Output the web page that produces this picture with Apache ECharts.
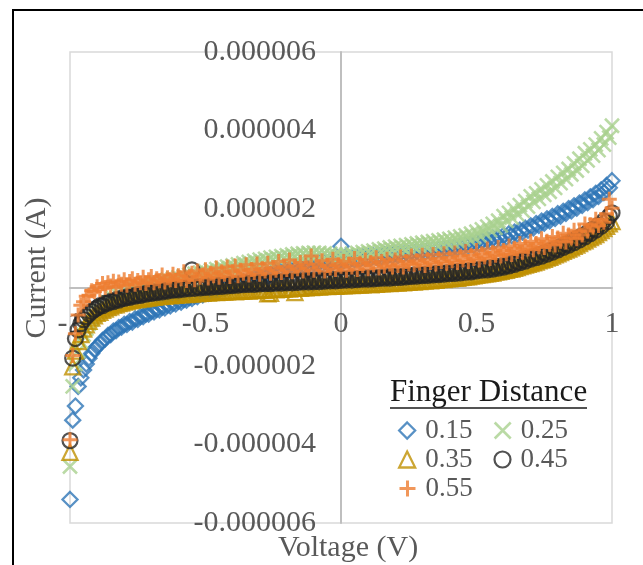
<!DOCTYPE html>
<html>
<head>
<meta charset="utf-8">
<script src="https://cdn.jsdelivr.net/npm/echarts@6/dist/echarts.min.js"></script>
<style>
  html, body { margin: 0; padding: 0; background: #fff; }
  #chart { width: 643px; height: 565px; }
</style>
</head>
<body>
<div id="chart"></div>
<script>
// Voltage sweep (V), 10 mV steps
const voltage = [
  -1,-0.99,-0.98,-0.97,-0.96,-0.95,-0.94,-0.93,-0.92,-0.91,
  -0.9,-0.89,-0.88,-0.87,-0.86,-0.85,-0.84,-0.83,-0.82,-0.81,
  -0.8,-0.79,-0.78,-0.77,-0.76,-0.75,-0.74,-0.73,-0.72,-0.71,
  -0.7,-0.69,-0.68,-0.67,-0.66,-0.65,-0.64,-0.63,-0.62,-0.61,
  -0.6,-0.59,-0.58,-0.57,-0.56,-0.55,-0.54,-0.53,-0.52,-0.51,
  -0.5,-0.49,-0.48,-0.47,-0.46,-0.45,-0.44,-0.43,-0.42,-0.41,
  -0.4,-0.39,-0.38,-0.37,-0.36,-0.35,-0.34,-0.33,-0.32,-0.31,
  -0.3,-0.29,-0.28,-0.27,-0.26,-0.25,-0.24,-0.23,-0.22,-0.21,
  -0.2,-0.19,-0.18,-0.17,-0.16,-0.15,-0.14,-0.13,-0.12,-0.11,
  -0.1,-0.09,-0.08,-0.07,-0.06,-0.05,-0.04,-0.03,-0.02,-0.01,
  0,0.01,0.02,0.03,0.04,0.05,0.06,0.07,0.08,0.09,
  0.1,0.11,0.12,0.13,0.14,0.15,0.16,0.17,0.18,0.19,
  0.2,0.21,0.22,0.23,0.24,0.25,0.26,0.27,0.28,0.29,
  0.3,0.31,0.32,0.33,0.34,0.35,0.36,0.37,0.38,0.39,
  0.4,0.41,0.42,0.43,0.44,0.45,0.46,0.47,0.48,0.49,
  0.5,0.51,0.52,0.53,0.54,0.55,0.56,0.57,0.58,0.59,
  0.6,0.61,0.62,0.63,0.64,0.65,0.66,0.67,0.68,0.69,
  0.7,0.71,0.72,0.73,0.74,0.75,0.76,0.77,0.78,0.79,
  0.8,0.81,0.82,0.83,0.84,0.85,0.86,0.87,0.88,0.89,
  0.9,0.91,0.92,0.93,0.94,0.95,0.96,0.97,0.98,0.99,
  1];

// Measured current for each finger distance, in microamps (one row per 0.1 V)
const current015 = [
  -5.40,-3.38,-3.02,-2.52,-2.30,-2.10,-1.95,-1.80,-1.68,-1.58,
  -1.50,-1.44,-1.35,-1.31,-1.22,-1.20,-1.11,-1.10,-1.02,-1.01,
  -0.94,-0.94,-0.87,-0.88,-0.80,-0.81,-0.74,-0.74,-0.68,-0.68,
  -0.61,-0.62,-0.56,-0.57,-0.50,-0.52,-0.45,-0.47,-0.40,-0.42,
  -0.35,-0.37,-0.31,-0.32,-0.26,-0.28,-0.22,-0.23,-0.17,-0.19,
  -0.13,-0.15,-0.09,-0.11,-0.05,-0.07,-0.01,-0.03,0.03,0.01,
  0.07,0.05,0.11,0.09,0.15,0.13,0.19,0.17,0.23,0.21,
  0.27,0.25,0.31,0.29,0.35,0.33,0.39,0.37,0.43,0.41,
  0.47,0.44,0.50,0.47,0.53,0.49,0.56,0.52,0.59,0.55,
  0.62,0.58,0.64,0.60,0.66,0.62,0.68,0.64,0.70,0.66,
  1.05,0.68,0.73,0.69,0.75,0.71,0.76,0.72,0.78,0.74,
  0.79,0.75,0.81,0.77,0.82,0.78,0.84,0.80,0.85,0.81,
  0.87,0.82,0.88,0.84,0.90,0.85,0.91,0.87,0.93,0.88,
  0.94,0.90,0.96,0.91,0.98,0.93,0.99,0.95,1.01,0.97,
  1.03,0.99,1.05,1.01,1.08,1.03,1.10,1.06,1.13,1.08,
  1.16,1.11,1.19,1.14,1.22,1.17,1.26,1.20,1.29,1.24,
  1.33,1.28,1.37,1.32,1.41,1.36,1.46,1.41,1.51,1.46,
  1.57,1.52,1.63,1.58,1.69,1.64,1.75,1.70,1.81,1.76,
  1.88,1.82,1.94,1.89,2.01,1.95,2.08,2.02,2.15,2.09,
  2.23,2.16,2.31,2.24,2.40,2.32,2.49,2.42,2.60,2.54,
  2.72];

const current025 = [
  -4.56,-2.52,-1.95,-1.62,-1.38,-1.20,-1.05,-0.92,-0.82,-0.72,
  -0.62,-0.59,-0.48,-0.47,-0.38,-0.37,-0.28,-0.28,-0.20,-0.21,
  -0.14,-0.15,-0.08,-0.10,-0.03,-0.05,0.02,-0.01,0.06,0.03,
  0.10,0.07,0.13,0.10,0.17,0.13,0.20,0.16,0.23,0.19,
  0.26,0.22,0.29,0.25,0.32,0.28,0.35,0.31,0.38,0.34,
  0.41,0.37,0.44,0.40,0.47,0.43,0.50,0.46,0.53,0.49,
  0.56,0.52,0.59,0.55,0.62,0.58,0.65,0.61,0.68,0.63,
  0.71,0.66,0.73,0.69,0.76,0.71,0.78,0.73,0.80,0.75,
  0.82,0.77,0.84,0.79,0.86,0.80,0.87,0.81,0.88,0.82,
  0.89,0.82,0.88,0.81,0.87,0.80,0.86,0.79,0.84,0.78,
  0.82,0.77,0.84,0.79,0.86,0.81,0.88,0.83,0.90,0.85,
  0.92,0.87,0.94,0.89,0.97,0.92,0.99,0.94,1.02,0.96,
  1.04,0.98,1.06,1.00,1.08,1.02,1.10,1.04,1.12,1.06,
  1.14,1.07,1.16,1.09,1.18,1.11,1.20,1.13,1.22,1.15,
  1.24,1.17,1.27,1.19,1.30,1.22,1.33,1.25,1.37,1.28,
  1.42,1.33,1.48,1.39,1.55,1.46,1.62,1.52,1.70,1.58,
  1.82,1.70,1.90,1.78,1.99,1.87,2.10,1.96,2.20,2.06,
  2.32,2.18,2.40,2.26,2.50,2.36,2.60,2.44,2.70,2.54,
  2.82,2.66,2.92,2.76,3.02,2.88,3.16,2.98,3.28,3.10,
  3.42,3.24,3.52,3.36,3.64,3.50,3.80,3.64,3.96,3.82,
  4.12];

const current035 = [
  -4.20,-2.02,-1.62,-1.38,-1.20,-1.06,-0.95,-0.86,-0.78,-0.72,
  -0.66,-0.63,-0.58,-0.55,-0.51,-0.49,-0.45,-0.44,-0.41,-0.40,
  -0.37,-0.36,-0.34,-0.33,-0.31,-0.31,-0.29,-0.29,-0.27,-0.27,
  -0.25,-0.25,-0.23,-0.23,-0.22,-0.22,-0.20,-0.21,-0.19,-0.20,
  -0.18,-0.19,-0.17,-0.18,-0.16,-0.17,-0.15,-0.16,-0.14,-0.15,
  -0.13,-0.14,-0.13,-0.12,-0.13,-0.12,-0.11,-0.12,-0.11,-0.10,
  -0.10,-0.11,-0.09,-0.10,-0.09,-0.08,-0.09,-0.08,-0.07,-0.08,
  -0.07,-0.06,-0.07,-0.16,-0.15,-0.05,-0.06,-0.04,-0.05,-0.04,
  -0.03,-0.04,-0.02,-0.13,-0.01,-0.02,0.00,-0.01,0.01,0.00,
  0.01,0.02,0.01,0.02,0.03,0.02,0.03,0.04,0.03,0.04,
  0.05,0.04,0.05,0.06,0.05,0.06,0.07,0.06,0.07,0.08,
  0.08,0.07,0.09,0.08,0.10,0.09,0.10,0.11,0.10,0.12,
  0.12,0.11,0.13,0.12,0.14,0.13,0.15,0.14,0.16,0.15,
  0.17,0.16,0.18,0.17,0.19,0.18,0.20,0.21,0.20,0.22,
  0.22,0.23,0.24,0.23,0.25,0.26,0.27,0.27,0.29,0.30,
  0.31,0.32,0.33,0.34,0.35,0.36,0.37,0.39,0.40,0.41,
  0.43,0.44,0.46,0.47,0.49,0.51,0.53,0.55,0.57,0.59,
  0.61,0.63,0.65,0.68,0.70,0.72,0.75,0.77,0.80,0.83,
  0.86,0.89,0.92,0.95,0.98,1.01,1.05,1.08,1.12,1.16,
  1.19,1.23,1.27,1.31,1.35,1.40,1.45,1.50,1.56,1.62,
  1.68];

const current045 = [
  -3.90,-1.80,-1.30,-1.08,-0.92,-0.82,-0.74,-0.67,-0.61,-0.56,
  -0.52,-0.46,-0.46,-0.40,-0.40,-0.35,-0.36,-0.31,-0.32,-0.27,
  -0.28,-0.24,-0.25,-0.21,-0.22,-0.18,-0.20,-0.16,-0.17,-0.13,
  -0.15,-0.11,-0.13,-0.09,-0.11,-0.07,-0.09,-0.05,-0.07,-0.04,
  -0.06,-0.02,-0.04,0.00,-0.03,0.45,-0.02,0.02,-0.01,0.03,
  0.00,0.04,0.01,0.05,0.02,0.06,0.03,0.07,0.04,0.08,
  0.05,0.09,0.06,0.10,0.07,0.11,0.08,0.12,0.08,0.12,
  0.09,0.13,0.10,0.14,0.10,0.14,0.11,0.15,0.11,0.15,
  0.12,0.16,0.12,0.17,0.13,0.17,0.14,0.18,0.14,0.18,
  0.15,0.19,0.15,0.20,0.16,0.20,0.17,0.21,0.17,0.22,
  0.18,0.22,0.19,0.23,0.19,0.24,0.20,0.24,0.21,0.25,
  0.21,0.26,0.22,0.26,0.23,0.27,0.24,0.28,0.24,0.29,
  0.25,0.30,0.26,0.30,0.27,0.31,0.28,0.32,0.29,0.33,
  0.30,0.34,0.31,0.35,0.32,0.36,0.33,0.37,0.34,0.38,
  0.35,0.40,0.36,0.41,0.37,0.42,0.39,0.43,0.40,0.45,
  0.42,0.47,0.44,0.49,0.45,0.51,0.47,0.53,0.49,0.55,
  0.52,0.58,0.55,0.62,0.59,0.66,0.63,0.70,0.67,0.75,
  0.72,0.79,0.76,0.84,0.80,0.89,0.85,0.94,0.90,0.99,
  0.96,1.05,1.02,1.11,1.08,1.18,1.14,1.25,1.21,1.32,
  1.29,1.40,1.37,1.49,1.46,1.59,1.56,1.70,1.67,1.82,
  1.90];

const current055 = [
  -3.88,-1.73,-1.18,-0.70,-0.45,-0.36,-0.22,-0.20,-0.08,-0.10,
  0.02,-0.06,0.10,0.00,0.12,0.04,0.16,0.02,0.14,0.08,
  0.20,0.06,0.15,0.22,0.08,0.18,0.12,0.26,0.10,0.20,
  0.28,0.12,0.22,0.17,0.32,0.14,0.25,0.20,0.34,0.18,
  0.30,0.22,0.40,0.18,0.28,0.36,0.20,0.42,0.26,0.32,
  0.45,0.24,0.36,0.30,0.50,0.26,0.40,0.34,0.52,0.28,
  0.40,0.55,0.30,0.44,0.36,0.58,0.32,0.46,0.38,0.60,
  0.34,0.48,0.42,0.62,0.36,0.50,0.44,0.66,0.38,0.52,
  0.46,0.70,0.40,0.54,0.48,0.64,0.42,0.58,0.50,0.80,
  0.44,0.60,0.52,0.68,0.42,0.56,0.50,0.72,0.46,0.58,
  0.54,0.66,0.44,0.60,0.52,0.74,0.46,0.62,0.56,0.70,
  0.48,0.64,0.58,0.76,0.50,0.66,0.54,0.72,0.60,0.52,
  0.70,0.56,0.78,0.52,0.66,0.60,0.80,0.58,0.68,0.62,
  0.82,0.56,0.72,0.64,0.84,0.60,0.74,0.66,0.86,0.62,
  0.76,0.68,0.88,0.64,0.80,0.70,0.92,0.66,0.82,0.74,
  0.94,0.70,0.86,0.78,0.98,0.74,0.90,0.82,1.02,0.80,
  0.94,0.86,1.06,0.84,1.00,0.92,1.12,0.90,1.06,0.98,
  1.18,0.96,1.12,1.04,1.24,1.02,1.18,1.10,1.30,1.08,
  1.26,1.18,1.38,1.16,1.34,1.26,1.46,1.24,1.42,1.34,
  1.62,1.44,1.60,1.54,1.74,1.58,1.72,1.66,1.88,2.25,
  2.02];

const seriesNames = ['0.15', '0.25', '0.35', '0.45', '0.55'];
const yTicksAmps = { '-6': '-0.000006', '-4': '-0.000004', '-2': '-0.000002', '0': '0',
                     '2': '0.000002', '4': '0.000004', '6': '0.000006' };

const FONT = "'Liberation Serif', 'Times New Roman', serif";
const GRAY = '#595959';

const CROSS = 'path://M0,0L10,10M10,0L0,10';
const PLUS = 'path://M5,0L5,10M0,5L10,5';

const styles = [
  { symbol: 'diamond',  color: '#2E75B6', size: 15, width: 2.3 },
  { symbol: CROSS,      color: '#A9D18E', size: 14, width: 2.6 },
  { symbol: 'triangle', color: '#BF9000', size: 15, width: 2.3 },
  { symbol: 'circle',   color: '#262626', size: 15, width: 2.2 },
  { symbol: PLUS,       color: '#ED7D31', size: 15, width: 3 }
];
const currents = [current015, current025, current035, current045, current055];

const series = seriesNames.map((name, k) => ({
  name: name,
  type: 'scatter',
  symbol: styles[k].symbol,
  symbolSize: styles[k].size,
  itemStyle: {
    color: 'rgba(0,0,0,0)',
    borderColor: styles[k].color,
    borderWidth: styles[k].width
  },
  data: voltage.map((v, i) => [v, currents[k][i]])
}));

function legendRow(names, top) {
  return {
    data: names.map(n => {
      const k = seriesNames.indexOf(n);
      return {
        name: n,
        icon: styles[k].symbol,
        itemStyle: { color: 'rgba(0,0,0,0)', borderColor: styles[k].color, borderWidth: styles[k].width }
      };
    }),
    left: 398,
    top: top,
    orient: 'horizontal',
    padding: 0,
    itemWidth: 16,
    itemHeight: 16,
    itemGap: 21,
    selectedMode: false,
    textStyle: { fontFamily: FONT, fontSize: 27, color: GRAY, padding: [0, 0, 0, 5] }
  };
}

// plot box: x from 70 to 612, y from 52 to 523; axes cross at (0, 0)
const PLOT = { left: 70, right: 31, top: 52, bottom: 42 };

const chart = echarts.init(document.getElementById('chart'), null, { renderer: 'canvas' });
chart.setOption({
  animation: false,
  backgroundColor: '#ffffff',
  grid: {
    left: PLOT.left, right: PLOT.right, top: PLOT.top, bottom: PLOT.bottom,
    containLabel: false, outerBoundsMode: 'none',
    show: true, borderColor: '#D9D9D9', borderWidth: 1.5
  },
  xAxis: {
    type: 'value', min: -1, max: 1, interval: 0.5,
    position: 'bottom',
    offset: -(565 - PLOT.top - PLOT.bottom) / 2,
    axisLine: { onZero: false, lineStyle: { color: '#BFBFBF', width: 2 } },
    axisTick: { show: false },
    splitLine: { show: false },
    axisLabel: { color: GRAY, fontFamily: FONT, fontSize: 30, margin: 22 }
  },
  yAxis: {
    type: 'value', min: -6, max: 6, interval: 2,
    position: 'left',
    offset: -(643 - PLOT.left - PLOT.right) / 2,
    axisLine: { onZero: false, lineStyle: { color: '#BFBFBF', width: 2 } },
    axisTick: { show: false },
    splitLine: { show: false },
    axisLabel: {
      color: GRAY, fontFamily: FONT, fontSize: 30, margin: 25,
      formatter: v => yTicksAmps[String(Math.round(v))]
    }
  },
  legend: [
    legendRow(['0.15', '0.25'], 417),
    legendRow(['0.35', '0.45'], 446),
    legendRow(['0.55'], 475)
  ],
  graphic: [
    { type: 'rect', shape: { x: 13, y: 10, width: 700, height: 700 },
      style: { fill: 'none', stroke: '#000', lineWidth: 2 }, silent: true },
    { type: 'text', x: 37, y: 268, rotation: Math.PI / 2,
      style: { text: 'Current (A)', font: "30px 'Liberation Serif', serif", fill: GRAY, align: 'center', verticalAlign: 'middle' } },
    { type: 'text', x: 348, y: 548,
      style: { text: 'Voltage (V)', font: "30px 'Liberation Serif', serif", fill: GRAY, align: 'center', verticalAlign: 'middle' } },
    { type: 'text', x: 390, y: 393,
      style: { text: 'Finger Distance', font: "31px 'Liberation Serif', serif", fill: '#1a1a1a', align: 'left', verticalAlign: 'middle' } },
    { type: 'line', shape: { x1: 390, y1: 408, x2: 587, y2: 408 },
      style: { stroke: '#1a1a1a', lineWidth: 1.5 } }
  ],
  series: series
});
</script>
</body>
</html>
